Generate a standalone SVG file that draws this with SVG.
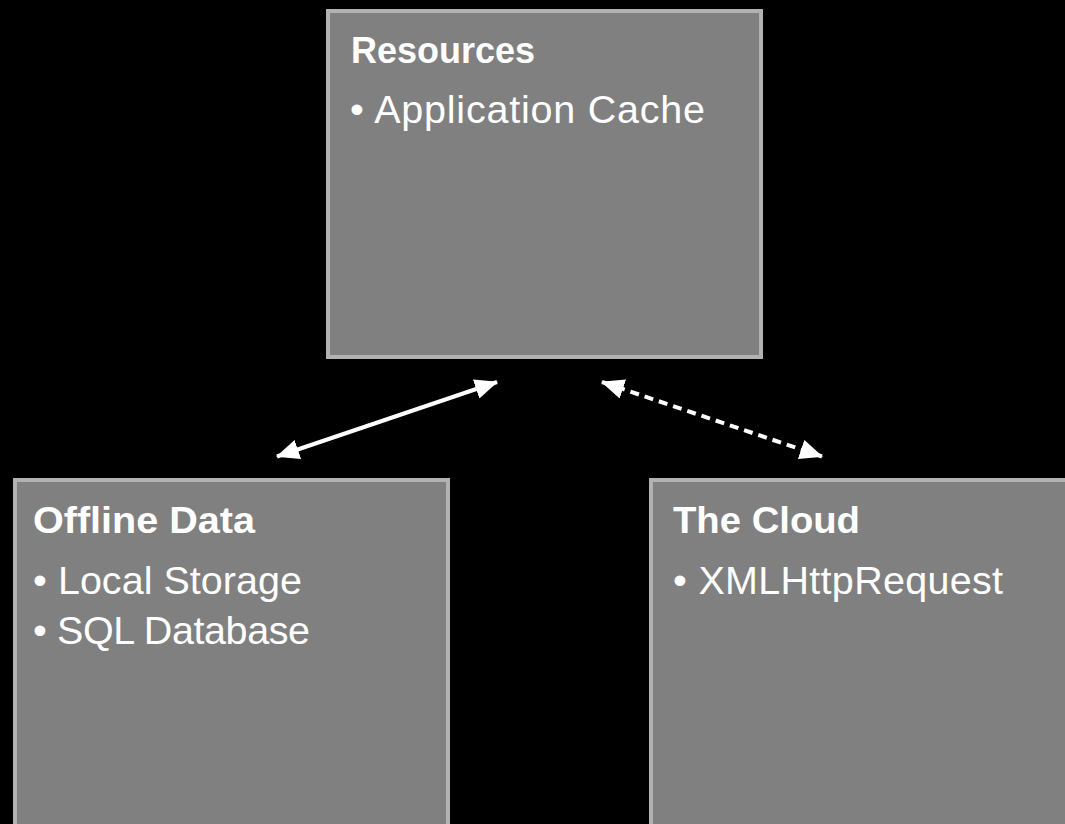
<svg xmlns="http://www.w3.org/2000/svg" width="1065" height="824" viewBox="0 0 1065 824">
  <style>
    .box { fill: #808080; stroke: #b2b2b2; stroke-width: 4; }
    .title { font-family: "Liberation Sans", Arial, sans-serif; font-weight: bold; font-size: 37px; fill: #ffffff; }
    .item { font-family: "Liberation Sans", Arial, sans-serif; font-size: 39.5px; fill: #ffffff; }
    .conn { stroke: #ffffff; stroke-width: 4; fill: none; }
    .dashed { stroke-dasharray: 9 6; }
  </style>
  <defs>
    <marker id="arrow" markerUnits="userSpaceOnUse" viewBox="0 0 23 20" refX="22" refY="10" markerWidth="23" markerHeight="20" orient="auto-start-reverse">
      <path d="M0,0 L23,10 L0,20 Z" fill="#ffffff"/>
    </marker>
  </defs>
  <rect x="0" y="0" width="1065" height="824" fill="#000000"/>

  <g id="resources">
    <rect class="box" x="328" y="11" width="433" height="346"/>
    <text class="title" x="351" y="63" textLength="184" lengthAdjust="spacingAndGlyphs">Resources</text>
    <text class="item" x="350" y="123" textLength="355" lengthAdjust="spacing">• Application Cache</text>
  </g>

  <g id="offline-data">
    <rect class="box" x="15" y="480" width="433" height="400"/>
    <text class="title" x="33" y="533" textLength="222" lengthAdjust="spacingAndGlyphs">Offline Data</text>
    <text class="item" x="33" y="594" textLength="269" lengthAdjust="spacing">• Local Storage</text>
    <text class="item" x="33" y="644" textLength="277" lengthAdjust="spacing">• SQL Database</text>
  </g>

  <g id="the-cloud">
    <rect class="box" x="651" y="480" width="433" height="400"/>
    <text class="title" x="673" y="533" textLength="187" lengthAdjust="spacingAndGlyphs">The Cloud</text>
    <text class="item" x="673" y="594" textLength="330" lengthAdjust="spacing">• XMLHttpRequest</text>
  </g>

  <g id="connectors">
    <line class="conn" x1="277" y1="456.5" x2="497" y2="382" marker-start="url(#arrow)" marker-end="url(#arrow)"/>
    <line class="conn dashed" x1="602" y1="382" x2="822" y2="456.5" marker-start="url(#arrow)" marker-end="url(#arrow)"/>
  </g>
</svg>
